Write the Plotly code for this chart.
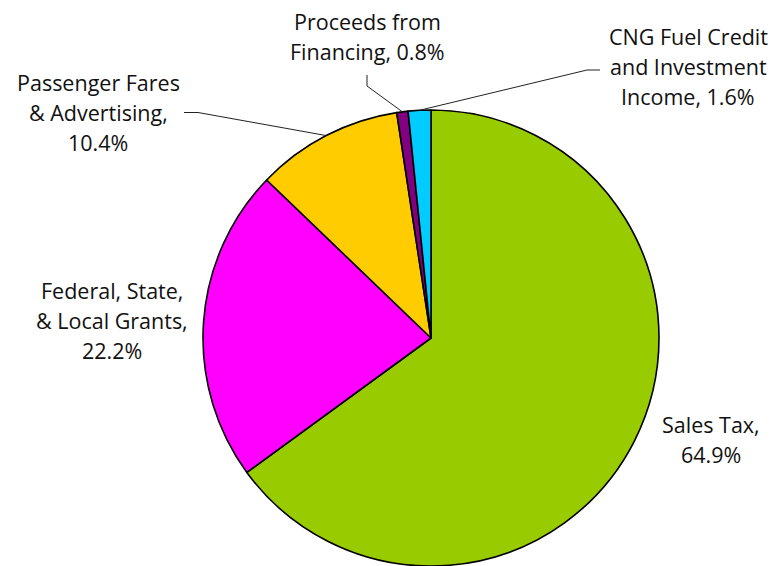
import math
import plotly.graph_objects as go

# ---- data ----
categories = ["Sales Tax", "Federal, State, & Local Grants", "Passenger Fares & Advertising",
              "Proceeds from Financing", "CNG Fuel Credit and Investment Income"]
values = [64.9, 22.2, 10.4, 0.8, 1.6]
label_lines = [
    ["Sales Tax,", "64.9%"],
    ["Federal, State,", "& Local Grants,", "22.2%"],
    ["Passenger Fares", "& Advertising,", "10.4%"],
    ["Proceeds from", "Financing, 0.8%"],
    ["CNG Fuel Credit", "and Investment", "Income, 1.6%"],
]
colors = ["#99CC00", "#FF00FF", "#FFCC00", "#800080", "#00CCFF"]

# ---- layout constants (pixels) ----
W, H = 775, 566
CX, CY, R = 431, 338, 228
FONT = "Open Sans"
FS = 21.5
LINE_SP = 30
# first-line baseline position (center x, baseline y) of each label
label_pos = [(711, 432), (112, 298), (98, 90), (367, 29), (688, 44)]
# leader lines: (start point, elbow point) per slice, None for no leader
leaders = [None, None, ((184, 112.5), (198, 112.5)), ((367, 75), (367, 86)), ((600, 70), (587, 70))]


def px(x):
    return x / W


def py(y):
    return 1 - y / H


fig = go.Figure(go.Pie(
    labels=categories, values=values, sort=False, direction="clockwise", rotation=0,
    marker=dict(colors=colors, line=dict(color="black", width=1.6)),
    textinfo="none", hoverinfo="label+percent", showlegend=False,
    domain=dict(x=[(CX - R) / W, (CX + R) / W], y=[1 - (CY + R) / H, 1 - (CY - R) / H]),
))

annotations = []
for lines, (lx, ly) in zip(label_lines, label_pos):
    for i, t in enumerate(lines):
        base = ly + i * LINE_SP
        annotations.append(dict(
            x=px(lx), y=py(base - 7.5), xref="paper", yref="paper",
            text=t, showarrow=False, xanchor="center", yanchor="middle",
            font=dict(family=FONT, size=FS, color="#111111")))

shapes = []
total = sum(values)
cum = 0.0
for v, ld in zip(values, leaders):
    mid = (cum + v / 2) / total
    cum += v
    if ld is None:
        continue
    th = 2 * math.pi * mid
    ex, ey = CX + R * math.sin(th), CY - R * math.cos(th)
    (sx, sy), (bx, by) = ld
    shapes.append(dict(type="path", xref="paper", yref="paper",
                       path=f"M {px(sx)} {py(sy)} L {px(bx)} {py(by)} L {px(ex)} {py(ey)}",
                       line=dict(color="#222222", width=1)))

fig.update_layout(
    width=W, height=H, margin=dict(l=0, r=0, t=0, b=0),
    paper_bgcolor="white", plot_bgcolor="white",
    annotations=annotations, shapes=shapes,
)

fig.write_html("out.html", config={"displayModeBar": False},
               post_script="document.body.style.margin='0';document.body.style.overflow='hidden';")
